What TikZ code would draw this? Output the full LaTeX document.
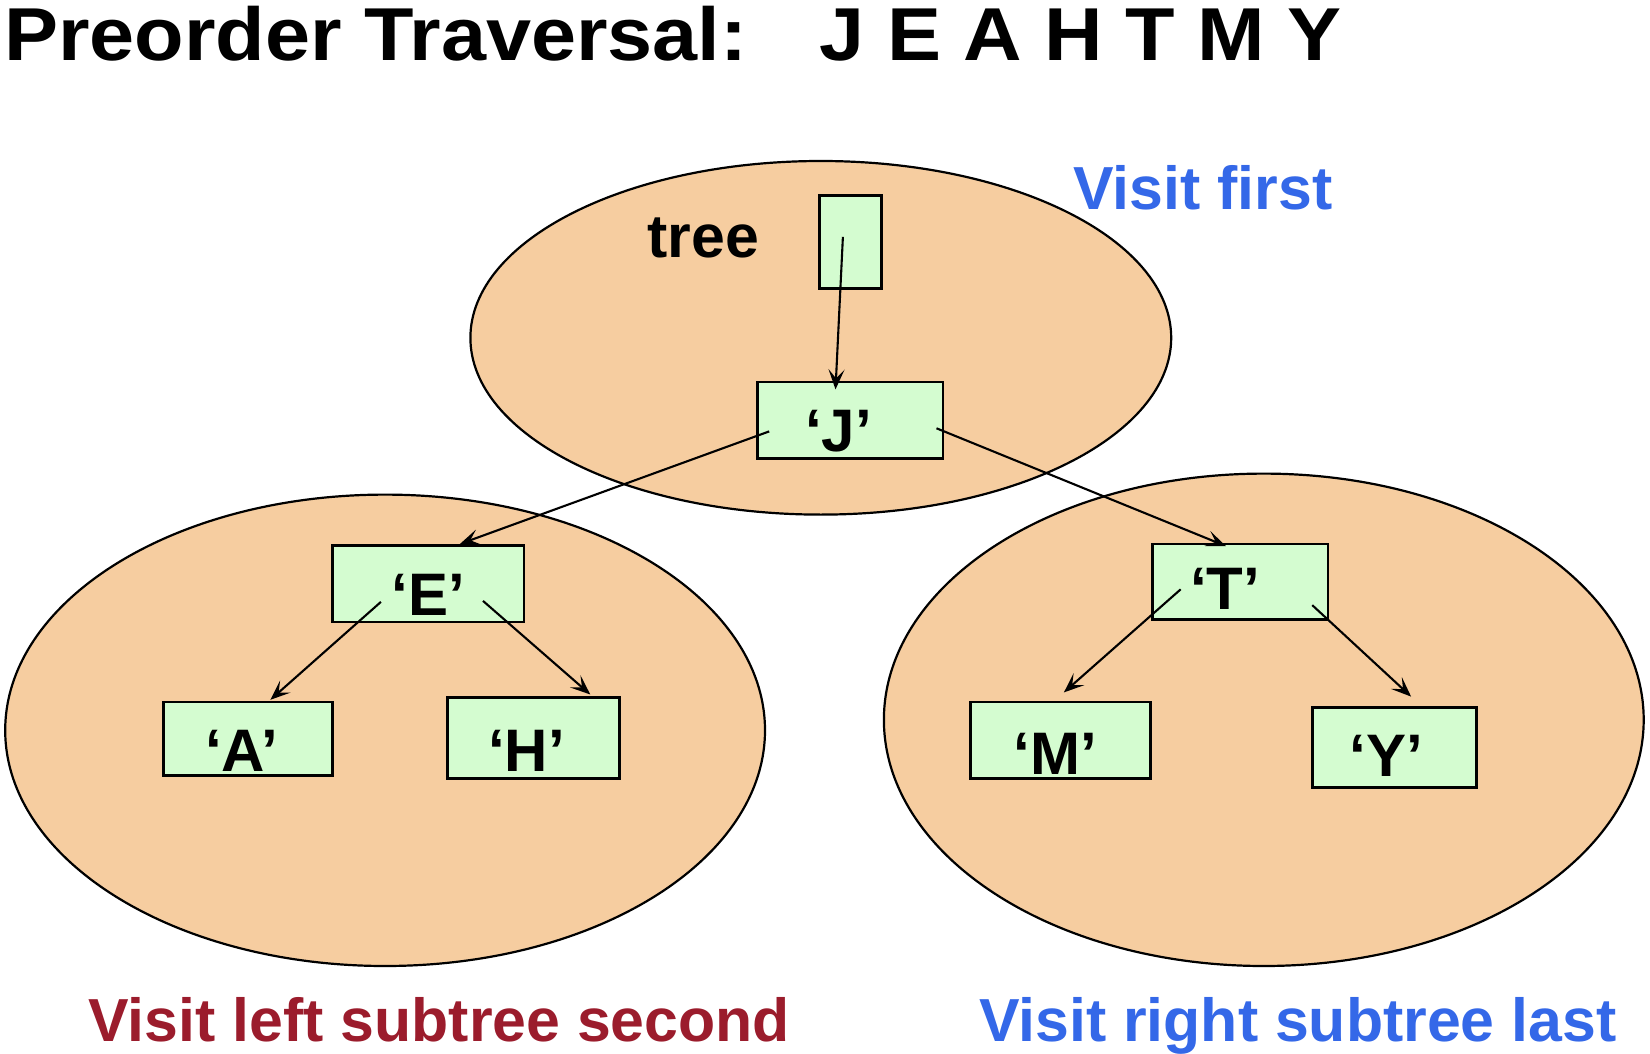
\documentclass[tikz,border=0pt]{standalone}
\usepackage{fontspec}
\setmainfont{Liberation Sans}
\usetikzlibrary{arrows.meta}
\definecolor{peach}{HTML}{F6CDA0}
\definecolor{mint}{HTML}{D4FCD0}
\definecolor{vblue}{HTML}{3468E8}
\definecolor{vred}{HTML}{9B1C2C}
\begin{document}
\begin{tikzpicture}[x=0.5pt,y=-0.5pt,
  blob/.style={draw=black, line width=1.1pt, fill=peach},
  box/.style={draw=black, line width=1.4pt, fill=mint, inner sep=0pt,
    text height=32pt, text depth=0pt,
    font=\fontsize{30pt}{36pt}\selectfont\bfseries},
  arr/.style={-{Stealth[length=10pt,width=8pt,inset=4.5pt]}, line width=1.05pt},
  big/.style={font=\fontsize{37.5pt}{45pt}\selectfont\bfseries, inner sep=0pt},
  mid/.style={font=\fontsize{30.4pt}{36pt}\selectfont\bfseries, inner sep=0pt}]
\useasboundingbox (0,0) rectangle (1650,1054);
% title
\node[big, anchor=base west] (title) at (4,61) {\scalebox{1.08}[1]{Preorder Traversal:}};
\node[big, anchor=base west] (seq) at (819.5,61) {\scalebox{1.08}[1]{J E A H T M Y}};
% groups
\draw[blob] (820.8,337.8) ellipse [x radius=350.4, y radius=176.8];
\draw[blob] (385.1,730.3) ellipse [x radius=379.9, y radius=235.7];
\draw[blob] (1263.8,719.8) ellipse [x radius=379.9, y radius=246.2];
% labels
\node[mid, anchor=base west] (treelbl) at (647,257) {tree};
\node[mid, anchor=base west, text=vblue] (v1) at (1073,209) {Visit first};
\node[mid, anchor=base west, text=vred] (v2) at (88,1041) {Visit left subtree second};
\node[mid, anchor=base west, text=vblue] (v3) at (978.6,1041) {Visit right subtree last};
% boxes
\node[box, minimum width=31.05pt, minimum height=46.3pt] (tree) at (850.7,242) {};
\node[box, minimum width=92.6pt, minimum height=38.4pt, text height=31.5pt] (J) at (850.3,420.4) {‘J’\hspace*{11.7pt}};
\node[box, minimum width=95.75pt, minimum height=38.4pt, text height=32pt] (E) at (428.3,583.5) {‘E’};
\node[box, minimum width=84.7pt, minimum height=36.8pt, text height=33pt] (A) at (247.8,738.7) {‘A’\hspace*{6pt}};
\node[box, minimum width=86.3pt, minimum height=40.5pt, text height=33pt] (H) at (533.5,738.2) {‘H’\hspace*{7pt}};
\node[box, minimum width=87.85pt, minimum height=37.9pt, text height=27.5pt] (T) at (1240.2,581.9) {‘T’\hspace*{15pt}};
\node[box, minimum width=90pt, minimum height=38.4pt, text height=34pt] (M) at (1060.2,740.3) {‘M’\hspace*{5pt}};
\node[box, minimum width=82.1pt, minimum height=40pt, text height=29.5pt] (Y) at (1394.3,747.1) {‘Y’\hspace*{8pt}};
% connector end points
\coordinate (tS) at (842.9,236.8);
\coordinate (tE) at (835.5,389.4);
\coordinate (jlS) at (769.2,431.4);
\coordinate (jlE) at (459.9,544.0);
\coordinate (jrS) at (936.5,428.3);
\coordinate (jrE) at (1225.9,546.1);
\coordinate (elS) at (380.9,601.9);
\coordinate (elE) at (270.4,699.8);
\coordinate (erS) at (483.0,600.9);
\coordinate (erE) at (590.3,694.5);
\coordinate (tlS) at (1180.7,589.3);
\coordinate (tlE) at (1063.9,692.4);
\coordinate (trS) at (1312.2,605.1);
\coordinate (trE) at (1411.1,696.6);
% connectors
\draw[arr] (tS) -- (tE);
\draw[arr] (jlS) -- (jlE);
\draw[arr] (jrS) -- (jrE);
\draw[arr] (elS) -- (elE);
\draw[arr] (erS) -- (erE);
\draw[arr] (tlS) -- (tlE);
\draw[arr] (trS) -- (trE);
\end{tikzpicture}
\end{document}
